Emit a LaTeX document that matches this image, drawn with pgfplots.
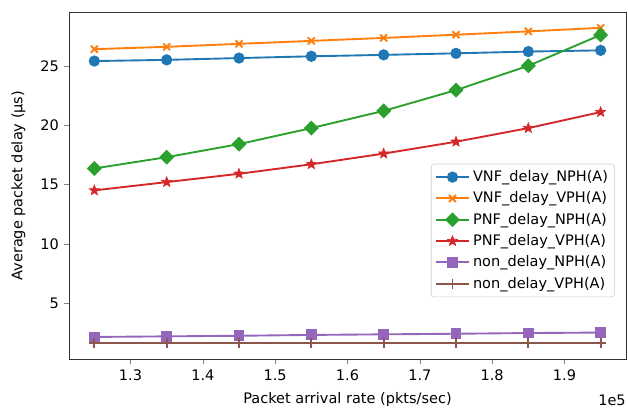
\documentclass[border=0pt]{standalone}
\usepackage{fontspec}
\setmainfont{DejaVu Sans}
\usepackage{pgfplots}
\pgfplotsset{compat=1.18}
\definecolor{c0}{HTML}{1F77B4}
\definecolor{c1}{HTML}{FF7F0E}
\definecolor{c2}{HTML}{2CA02C}
\definecolor{c3}{HTML}{D62728}
\definecolor{c4}{HTML}{9467BD}
\definecolor{c5}{HTML}{8C564B}
\pgfdeclareplotmark{fstar}{%
  \pgfpathmoveto{\pgfpointpolar{90}{\pgfplotmarksize}}%
  \pgfpathlineto{\pgfpointpolar{126}{0.42\pgfplotmarksize}}%
  \pgfpathlineto{\pgfpointpolar{162}{\pgfplotmarksize}}%
  \pgfpathlineto{\pgfpointpolar{198}{0.42\pgfplotmarksize}}%
  \pgfpathlineto{\pgfpointpolar{234}{\pgfplotmarksize}}%
  \pgfpathlineto{\pgfpointpolar{270}{0.42\pgfplotmarksize}}%
  \pgfpathlineto{\pgfpointpolar{306}{\pgfplotmarksize}}%
  \pgfpathlineto{\pgfpointpolar{342}{0.42\pgfplotmarksize}}%
  \pgfpathlineto{\pgfpointpolar{18}{\pgfplotmarksize}}%
  \pgfpathlineto{\pgfpointpolar{54}{0.42\pgfplotmarksize}}%
  \pgfpathclose
  \pgfusepathqfillstroke
}
\begin{document}
\begin{tikzpicture}
\begin{axis}[
  scale only axis,
  width=384pt, height=239.4pt,
  xmin=1.215, xmax=1.985,
  ymin=0.27, ymax=29.53,
  xtick={1.3,1.4,1.5,1.6,1.7,1.8,1.9},
  xticklabels={1.3,1.4,1.5,1.6,1.7,1.8,1.9},
  ytick={5,10,15,20,25},
  tick align=outside,
  tick pos=left,
  major tick length=3.5pt,
  /pgf/number format/assume math mode=true,
  ticklabel style={font=\fontsize{10}{12}\selectfont},
  axis line style={black!80, line width=0.6pt},
  legend style={at={(0.98,0.179)}, anchor=south east, draw=black!20, rounded corners=2pt,
    font=\fontsize{10}{12}\selectfont, row sep=1.6pt, inner sep=2.5pt},
  legend cell align=left,
  legend image code/.code={\draw[mark repeat=2,mark phase=2,#1] plot coordinates {(0pt,0pt) (11.5pt,0pt) (23pt,0pt)};},
  every axis plot/.append style={line width=1.3pt},
  clip=false,
]
\addplot[c0, mark=*, mark size=3.2pt] coordinates {
(1.25,25.40) (1.35,25.50) (1.45,25.65) (1.55,25.80) (1.65,25.92) (1.75,26.05) (1.85,26.20) (1.95,26.30)};
\addlegendentry{VNF\_delay\_NPH(A)}
\addplot[c1, mark=x, mark size=3.4pt] coordinates {
(1.25,26.40) (1.35,26.60) (1.45,26.85) (1.55,27.10) (1.65,27.35) (1.75,27.62) (1.85,27.90) (1.95,28.20)};
\addlegendentry{VNF\_delay\_VPH(A)}
\addplot[c2, mark=square*, mark size=3.0pt, mark options={rotate=45}] coordinates {
(1.25,16.35) (1.35,17.30) (1.45,18.40) (1.55,19.75) (1.65,21.20) (1.75,22.95) (1.85,25.00) (1.95,27.60)};
\addlegendentry{PNF\_delay\_NPH(A)}
\addplot[c3, mark=fstar, mark size=3.6pt, mark options={fill=c3, line width=0.5pt}] coordinates {
(1.25,14.50) (1.35,15.20) (1.45,15.90) (1.55,16.70) (1.65,17.60) (1.75,18.60) (1.85,19.75) (1.95,21.10)};
\addlegendentry{PNF\_delay\_VPH(A)}
\addplot[c4, mark=square*, mark size=3.1pt] coordinates {
(1.25,2.15) (1.35,2.20) (1.45,2.25) (1.55,2.32) (1.65,2.37) (1.75,2.42) (1.85,2.48) (1.95,2.52)};
\addlegendentry{non\_delay\_NPH(A)}
\addplot[c5, mark=+, mark size=3.4pt] coordinates {
(1.25,1.65) (1.35,1.65) (1.45,1.65) (1.55,1.65) (1.65,1.65) (1.75,1.65) (1.85,1.65) (1.95,1.65)};
\addlegendentry{non\_delay\_VPH(A)}
\node[anchor=east, font=\fontsize{10}{12}\selectfont, inner sep=0pt] at ([yshift=-28pt]rel axis cs:1,0) {1e5};
\node[font=\fontsize{10}{12}\selectfont, inner sep=0pt] at ([yshift=-28pt]rel axis cs:0.5,0) {Packet arrival rate (pkts/sec)};
\node[rotate=90, font=\fontsize{10}{12}\selectfont, inner sep=0pt] at ([xshift=-35pt]rel axis cs:0,0.5) {Average packet delay (μs)};
\coordinate (ll) at (rel axis cs:0,0);
\coordinate (ur) at (rel axis cs:1,1);
\end{axis}
\pgfresetboundingbox
\path[use as bounding box] ([shift={(-47.6pt,-33.8pt)}]ll) rectangle ([shift={(1.4pt,8.3pt)}]ur);
\end{tikzpicture}
\end{document}
